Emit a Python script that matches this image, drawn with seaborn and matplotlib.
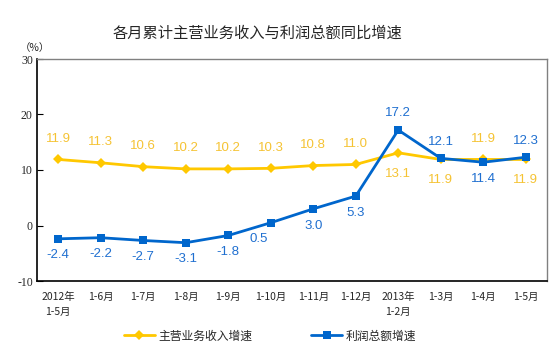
import matplotlib
matplotlib.use("Agg")
import matplotlib.pyplot as plt
import seaborn as sns
import pandas as pd
import numpy as np

periods = ["2012年\n1-5月", "1-6月", "1-7月", "1-8月", "1-9月", "1-10月",
           "1-11月", "1-12月", "2013年\n1-2月", "1-3月", "1-4月", "1-5月"]
revenue = [11.9, 11.3, 10.6, 10.2, 10.2, 10.3, 10.8, 11.0, 13.1, 11.9, 11.9, 11.9]
profit = [-2.4, -2.2, -2.7, -3.1, -1.8, 0.5, 3.0, 5.3, 17.2, 12.1, 11.4, 12.3]
# label above (+1) or below (-1) the point
rev_side = [1, 1, 1, 1, 1, 1, 1, 1, -1, -1, 1, -1]
pro_side = [-1, -1, -1, -1, -1, -1, -1, -1, 1, 1, -1, 1]

sns.set_style("white")
plt.rcParams["font.family"] = ["Noto Sans CJK SC", "DejaVu Sans"]

yellow = "#FFC800"
blue = "#0066CC"

df = pd.DataFrame({"x": np.arange(len(periods)), "rev": revenue, "pro": profit})

fig = plt.figure(figsize=(5.54, 3.52), dpi=100)
ax = fig.add_axes([37 / 554, 1 - 281 / 352, 510 / 554, 222 / 352])

sns.lineplot(data=df, x="x", y="rev", ax=ax, color=yellow, lw=2,
             marker="D", markersize=5, markeredgewidth=0, label="主营业务收入增速")
sns.lineplot(data=df, x="x", y="pro", ax=ax, color=blue, lw=2,
             marker="s", markersize=6, markeredgewidth=0, label="利润总额增速")

for i, (v, s) in enumerate(zip(revenue, rev_side)):
    ax.annotate(f"{v:.1f}", (i, v), xytext=(0, 15 * s), textcoords="offset points",
                ha="center", va="center", color="#F5C334", fontsize=9.5,
                family="Liberation Sans")
for i, (v, s) in enumerate(zip(profit, pro_side)):
    dx = -9 if i == 5 else 0
    ax.annotate(f"{v:.1f}", (i, v), xytext=(dx, 12 * s), textcoords="offset points",
                ha="center", va="center", color="#1F6FD0", fontsize=9.5,
                family="Liberation Sans")

ax.set_xlim(-0.5, len(periods) - 0.5)
ax.set_ylim(-10, 30)
ax.set_yticks([-10, 0, 10, 20, 30])
ax.set_yticklabels(["-10", "0", "10", "20", "30"], family="Liberation Serif", fontsize=8.5)
ax.set_xticks(np.arange(len(periods)))
ax.set_xticklabels(periods, fontsize=7.5, linespacing=1.6)
ax.set_xticks(np.arange(0.5, len(periods) - 1, 1), minor=True)
ax.tick_params(axis="x", which="major", length=0, pad=8)
ax.tick_params(axis="x", which="minor", direction="in", length=5, width=0.8, color="black")
ax.tick_params(axis="y", direction="in", length=4, width=0.8, color="black", left=True, pad=3)
ax.set_xlabel("")
ax.set_ylabel("")

for side in ["left", "bottom"]:
    ax.spines[side].set_color("black")
    ax.spines[side].set_linewidth(1.2)
for side in ["top", "right"]:
    ax.spines[side].set_color("#808080")
    ax.spines[side].set_linewidth(1.0)

fig.text(257 / 554, 1 - 33 / 352, "各月累计主营业务收入与利润总额同比增速",
         ha="center", va="center", fontsize=11)
fig.text(35 / 554, 1 - 48 / 352, "（%）", ha="center", va="center", fontsize=7.5)

ax.legend(loc="center", bbox_to_anchor=(270 / 554, 1 - 336 / 352),
          bbox_transform=fig.transFigure, ncol=2, frameon=False, fontsize=8.5,
          handlelength=2.6, columnspacing=5.0, handletextpad=0.3)

fig.savefig("out.png", dpi=100)
